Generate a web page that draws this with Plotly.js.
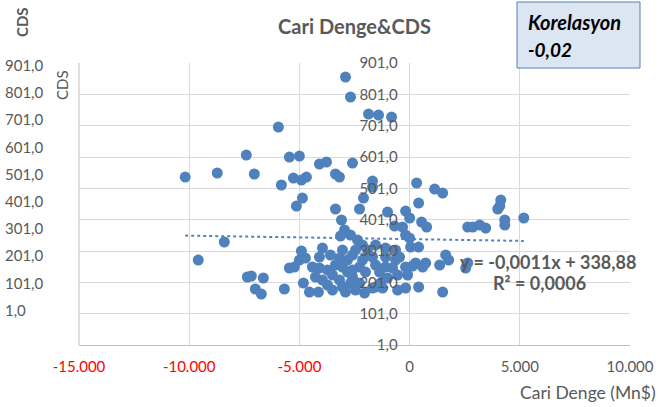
<!DOCTYPE html>
<html>
<head>
<meta charset="utf-8">
<script src="https://cdn.plot.ly/plotly-3.0.1.min.js"></script>
<style>html,body{margin:0;padding:0;background:#fff;}#chart{width:670px;height:407px;}</style>
</head>
<body>
<div id="chart"></div>
<script>
// Cari Denge (Mn$) values
const cariDenge = [-10181,-8727,-7409,-7045,-5954,-5818,-5454,-5000,-5272,-4909,
  -4681,-4863,-5136,-8408,-9590,-7363,-7181,-6636,-6999,-6727,
  -5681,-4091,-3772,-3363,-3182,-2909,-2682,-2591,-1863,-1409,
  -818,-1682,-1682,-2091,-3363,-2272,-3091,-1000,-182,-2954,
  -3136,-2682,-4909,-3954,-5000,-5227,-4727,-4091,-4409,-4091,
  -5454,-4818,-4272,-3954,-4545,-4136,-3045,-3182,-3363,-3045,
  -2818,-2591,-2454,-3182,-3045,-2909,-2454,-2272,-1682,-2000,
  -1545,-2272,-1364,-1091,-773,-1545,-1091,-636,-2591,318,
  1136,1500,409,0,545,773,-682,-318,-182,0,
  45,409,-1682,-1091,-636,-455,-182,136,273,591,
  727,1364,1636,1773,-1545,-1318,-545,-182,409,1500,
  2636,2863,3182,3454,4136,4091,4000,4318,4318,5181,
  2636,2545,-1227,
  -3727,-3500,-2818,-2136,-1909,-2363,-3591,-3727,-2682,-3500,-2045,-1000,-545,-91,-2136,-1909,-2591];
// CDS values
const cds = [537.1,549.9,607.3,546.7,696.6,511.6,600.9,604.1,533.9,527.5,
  537.1,470.1,444.5,329.7,272.2,218.0,221.2,214.8,179.7,163.7,
  179.7,578.6,585.0,546.7,537.1,856.2,792.4,581.8,738.1,734.9,
  728.5,524.3,505.2,470.1,435.0,435.0,399.9,425.4,428.6,368.0,
  348.8,352.0,301.0,310.5,272.2,249.9,278.6,281.8,249.9,246.7,
  246.7,198.8,218.0,208.4,170.1,170.1,304.1,278.6,256.3,249.9,
  272.2,288.2,304.1,208.4,186.1,170.1,176.5,198.8,182.9,233.9,
  256.3,249.9,233.9,249.9,246.7,320.1,310.5,304.1,218.0,518.0,
  498.8,486.0,454.1,406.3,393.5,377.5,380.7,377.5,352.0,342.4,
  313.7,313.7,281.8,281.8,272.2,281.8,249.9,253.1,262.7,249.9,
  262.7,256.3,288.2,272.2,186.1,198.8,176.5,182.9,186.1,170.1,
  377.5,377.5,383.9,374.3,463.7,444.5,435.0,399.9,383.9,406.3,
  262.7,246.7,182.9,
  240.3,224.4,233.9,272.2,288.2,336.1,288.2,192.5,198.8,176.5,166.9,214.8,224.4,224.4,320.1,304.1,240.3];

const xTickVals = [-15000,-10000,-5000,0,5000,10000];
const xTickLabels = ['-15.000','-10.000','-5.000','0','5.000','10.000'];
const strayYLabels = ['901,0','801,0','701,0','601,0','501,0','401,0','301,0','201,0','101,0','1,0'];
const trendSlope = -0.0011;
const trendIntercept = 338.88;
const trendText = 'y = -0,0011x + 338,88';
const r2Text = 'R² = 0,0006';
const corrLabel = 'Korelasyon';
const corrValue = '-0,02';

const W = 670, H = 407;
const M = {l:79, r:40, t:63, b:62};
const PW = W - M.l - M.r, PH = H - M.t - M.b;
const px = x => (x - M.l) / PW;
const py = y => (H - M.b - y) / PH;

const grey = '#595959';
const FONT = 'Lato, "Open Sans", sans-serif';

const xMin = Math.min(...cariDenge), xMax = Math.max(...cariDenge);

const traces = [
  {type:'scatter', mode:'markers', x:cariDenge, y:cds,
   marker:{color:'#4f81bd', size:11}, hoverinfo:'skip', cliponaxis:false},
  {type:'scatter', mode:'lines', x:[xMin, xMax],
   y:[trendSlope*xMin+trendIntercept, trendSlope*xMax+trendIntercept],
   line:{color:'#4f81bd', width:2, dash:'dot'}, hoverinfo:'skip'}
];

const ticktext = xTickVals.map((v,i)=> v<0 ? '<span style="color:#ff0000">'+xTickLabels[i]+'</span>' : xTickLabels[i]);

const annotations = [];
strayYLabels.forEach((t,i)=>{
  annotations.push({xref:'paper', yref:'paper', x:px(3), y:py(65 + 27.2*i),
    xanchor:'left', yanchor:'middle', text:t, showarrow:false,
    font:{family:FONT, size:15, color:grey}});
});
annotations.push({xref:'paper', yref:'paper', x:px(62), y:py(85), text:'CDS', textangle:-90,
  showarrow:false, xanchor:'center', yanchor:'middle', font:{family:FONT, size:15, color:grey}});
annotations.push({xref:'paper', yref:'paper', x:px(22), y:py(22), text:'<b>CDS</b>', textangle:-90,
  showarrow:false, xanchor:'center', yanchor:'middle', font:{family:FONT, size:15, color:grey}});
annotations.push({xref:'paper', yref:'paper', x:px(526), y:py(22), text:'<b><i>'+corrLabel+'</i></b>',
  showarrow:false, xanchor:'left', yanchor:'middle', font:{family:FONT, size:20, color:'#000'}});
annotations.push({xref:'paper', yref:'paper', x:px(526), y:py(49), text:'<b><i>'+corrValue+'</i></b>',
  showarrow:false, xanchor:'left', yanchor:'middle', font:{family:FONT, size:19, color:'#000'}});
annotations.push({xref:'paper', yref:'paper', x:px(548), y:py(262), text:'<b>'+trendText+'</b>',
  showarrow:false, xanchor:'center', yanchor:'middle', font:{family:FONT, size:18, color:grey}});
annotations.push({xref:'paper', yref:'paper', x:px(539), y:py(283), text:'<b>'+r2Text+'</b>',
  showarrow:false, xanchor:'center', yanchor:'middle', font:{family:FONT, size:18, color:grey}});
annotations.push({xref:'paper', yref:'paper', x:px(658), y:py(392), text:'Cari Denge (Mn$)',
  showarrow:false, xanchor:'right', yanchor:'middle', font:{family:FONT, size:17.5, color:grey}});

const layout = {
  width:W, height:H, margin:M, showlegend:false,
  paper_bgcolor:'#fff', plot_bgcolor:'#fff',
  separators:',.',
  font:{family:FONT, color:grey, size:15},
  title:{text:'<b>Cari Denge&amp;CDS</b>', xref:'paper', x:0.5, xanchor:'center', y:1-27/H, yanchor:'middle', yref:'container',
    font:{family:FONT, size:20, color:grey}},
  xaxis:{range:[-15000,10000], tickmode:'array', tickvals:xTickVals, ticktext:ticktext,
    showgrid:true, gridcolor:'#d9d9d9', gridwidth:1, zeroline:false,
    showline:true, linecolor:'#bfbfbf', linewidth:1, ticks:'', ticklabelstandoff:8,
    tickfont:{family:FONT, size:15, color:grey}, fixedrange:true},
  yaxis:{range:[1,901], tick0:1, dtick:100, tickformat:'.1f', anchor:'free', position:0.6,
    showgrid:true, gridcolor:'#d9d9d9', gridwidth:1, zeroline:false, showline:false,
    ticks:'', ticklabelstandoff:12, tickfont:{family:FONT, size:15, color:grey}, fixedrange:true},
  shapes:[
    {type:'line', xref:'paper', yref:'paper', x0:0, x1:0, y0:0, y1:1, line:{color:'#bfbfbf', width:1}},
    {type:'rect', xref:'paper', yref:'paper', x0:px(517), x1:px(640), y0:py(68), y1:py(2),
     fillcolor:'#dce6f2', line:{color:'#4f81bd', width:1}, layer:'above'}
  ],
  annotations:annotations
};

Plotly.newPlot('chart', traces, layout, {staticPlot:true, displayModeBar:false});
</script>
</body>
</html>
